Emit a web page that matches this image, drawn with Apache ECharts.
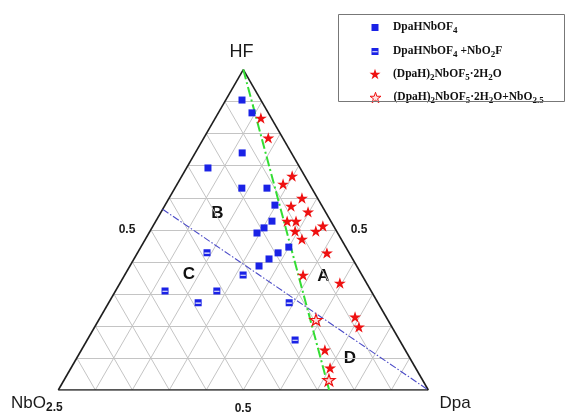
<!DOCTYPE html>
<html><head><meta charset="utf-8">
<script src="https://cdn.jsdelivr.net/npm/echarts@6/dist/echarts.min.js"></script>
<style>html,body{margin:0;padding:0;background:#fff}#c{width:566px;height:414px}</style>
</head><body><div id="c"></div>
<script>
// Ternary compositions stored as [HF fraction, Dpa fraction]; NbO2.5 = 1 - HF - Dpa
const seriesNames = ['DpaHNbOF4', 'DpaHNbOF4+NbO2F', '(DpaH)2NbOF5·2H2O', '(DpaH)2NbOF5·2H2O+NbO2.5'];
const dpaHNbOF4 = [[0.905,0.044],[0.865,0.091],[0.740,0.127],[0.693,0.058],[0.630,0.181],[0.630,0.249],
  [0.577,0.297],[0.527,0.314],[0.506,0.303],[0.490,0.292],[0.446,0.400],[0.428,0.380],[0.409,0.365],[0.387,0.349]];
const dpaHNbOF4_NbO2F = [[0.428,0.188],[0.359,0.320],[0.309,0.134],[0.309,0.274],[0.272,0.242],[0.272,0.488],[0.156,0.562]];
const dpaH2NbOF5 = [[0.849,0.123],[0.787,0.174],[0.643,0.286],[0.668,0.298],[0.599,0.359],[0.574,0.342],[0.556,0.397],
  [0.527,0.355],[0.527,0.379],[0.496,0.392],[0.512,0.459],[0.496,0.448],[0.471,0.423],[0.428,0.512],[0.359,0.482],
  [0.334,0.594],[0.228,0.688],[0.197,0.714],[0.125,0.658],[0.069,0.700]];
const dpaH2NbOF5_NbO25 = [[0.219,0.587],[0.031,0.716]];
const greenBoundary = [[1,0],[0,0.732]];
const blueBoundary = [[0.564,0],[0,1]];
const gridSteps = [0.1,0.2,0.3,0.4,0.5,0.6,0.7,0.8,0.9];
const tickLabels = ['0.5','0.5','0.5'];
const vertexLabels = ['HF', 'NbO{s|2.5}', 'Dpa'];
const regionLabels = ['A','B','C','D'];

const SQ = Math.sqrt(3) / 2;
function toXY(p) { return [p[1] + p[0] / 2, p[0] * SQ]; }
function seg(a, b) { return { coords: [toXY(a), toXY(b)] }; }

const gridSegs = [];
gridSteps.forEach(t => {
  gridSegs.push(seg([t, 0], [t, 1 - t]));       // constant HF
  gridSegs.push(seg([0, t], [1 - t, t]));       // constant Dpa
  gridSegs.push(seg([1 - t, 0], [0, 1 - t]));   // constant NbO2.5
});
const borderSegs = [seg([0,0],[0,1]), seg([0,1],[1,0]), seg([1,0],[0,0])];

const starPath = 'path://M100,0L122.5,69.1L195.1,69.1L136.3,111.8L158.8,180.9L100,138.2L41.2,180.9L63.7,111.8L4.9,69.1L77.5,69.1Z';
const halfSq = 'path://M0,0L10,0L10,10L0,10Z M1.2,4.6L1.2,6.2L8.8,6.2L8.8,4.6Z';
const BLUE = '#1a22e6', RED = '#ee1111';

const richMap = {
  'DpaHNbOF4': 'DpaHNbOF{s|4}',
  'DpaHNbOF4+NbO2F': 'DpaHNbOF{s|4} +NbO{s|2}F',
  '(DpaH)2NbOF5·2H2O': '(DpaH){s|2}NbOF{s|5}·2H{s|2}O',
  '(DpaH)2NbOF5·2H2O+NbO2.5': '(DpaH){s|2}NbOF{s|5}·2H{s|2}O+NbO{s|2.5}'
};
const legTS = {
  fontFamily: 'Liberation Serif', fontWeight: 'bold', fontSize: 11.5, color: '#111', lineHeight: 13,
  rich: { s: { fontFamily: 'Liberation Serif', fontWeight: 'bold', fontSize: 9, lineHeight: 8, padding: [7,0,0,0], verticalAlign: 'middle' } }
};
function mkLegend(item, top, w, left, pad) {
  return { orient: 'vertical', left: left, top: top, padding: 0, itemWidth: w, itemHeight: w, selectedMode: false,
    data: [item], formatter: n => richMap[n], textStyle: Object.assign({ padding: [0,0,0,pad] }, legTS) };
}

const chart = echarts.init(document.getElementById('c'));
chart.setOption({
  animation: false,
  grid: { left: 58.3, top: 69.6, width: 370, height: 320.4 },
  xAxis: { type: 'value', min: 0, max: 1, show: false },
  yAxis: { type: 'value', min: 0, max: SQ, show: false },
  legend: [
    mkLegend(seriesNames[0], 19.5, 7, 371.5, 9.5),
    mkLegend(seriesNames[1], 43.5, 7, 371.5, 9.5),
    mkLegend(seriesNames[2], 66, 11, 369.5, 7.5),
    mkLegend({ name: seriesNames[3], icon: starPath, itemStyle: { color: '#ffe4e4', borderColor: RED, borderWidth: 1 } }, 89.5, 11, 369.5, 7.5)
  ],
  graphic: [
    { type: 'rect', shape: { x: 338.5, y: 14.5, width: 226, height: 87 }, style: { fill: 'none', stroke: '#777', lineWidth: 1 }, z: 100 },
    { type: 'text', x: 241.5, y: 52, style: { text: vertexLabels[0], font: '18px "Liberation Sans"', fill: '#1a1a1a', align: 'center', verticalAlign: 'middle' } },
    { type: 'text', x: 11, y: 403, style: { text: vertexLabels[1], font: '17px "Liberation Sans"', fill: '#1a1a1a', align: 'left', verticalAlign: 'middle',
        rich: { s: { fontSize: 12, fontWeight: 'bold', fontFamily: 'Liberation Sans', fill: '#1a1a1a', padding: [9,0,0,0], lineHeight: 11 } } } },
    { type: 'text', x: 455, y: 403, style: { text: vertexLabels[2], font: '17px "Liberation Sans"', fill: '#1a1a1a', align: 'center', verticalAlign: 'middle' } },
    { type: 'text', x: 127, y: 230, style: { text: tickLabels[0], font: 'bold 12px "Liberation Sans"', fill: '#1a1a1a', align: 'center', verticalAlign: 'middle' } },
    { type: 'text', x: 359, y: 230, style: { text: tickLabels[1], font: 'bold 12px "Liberation Sans"', fill: '#1a1a1a', align: 'center', verticalAlign: 'middle' } },
    { type: 'text', x: 243, y: 409, style: { text: tickLabels[2], font: 'bold 12px "Liberation Sans"', fill: '#1a1a1a', align: 'center', verticalAlign: 'middle' } },
    { type: 'text', x: 323.5, y: 276.5, style: { text: regionLabels[0], font: 'bold 17px "Liberation Sans"', fill: '#111', align: 'center', verticalAlign: 'middle' } },
    { type: 'text', x: 217.5, y: 213.5, style: { text: regionLabels[1], font: 'bold 17px "Liberation Sans"', fill: '#111', align: 'center', verticalAlign: 'middle' } },
    { type: 'text', x: 189, y: 274, style: { text: regionLabels[2], font: 'bold 17px "Liberation Sans"', fill: '#111', align: 'center', verticalAlign: 'middle' } },
    { type: 'text', x: 350, y: 358.5, style: { text: regionLabels[3], font: 'bold 17px "Liberation Sans"', fill: '#111', align: 'center', verticalAlign: 'middle' } }
  ],
  series: [
    { type: 'lines', coordinateSystem: 'cartesian2d', silent: true, z: 1,
      lineStyle: { color: '#c4c4c4', width: 1, opacity: 1 }, data: gridSegs },
    { type: 'lines', coordinateSystem: 'cartesian2d', silent: true, z: 2,
      lineStyle: { color: '#1e1e1e', width: 1.6, opacity: 1 }, data: borderSegs },
    { type: 'lines', coordinateSystem: 'cartesian2d', silent: true, z: 3,
      lineStyle: { color: '#4c4cc8', width: 1.1, opacity: 1, type: [7, 2, 1.5, 2] }, data: [seg(blueBoundary[0], blueBoundary[1])] },
    { type: 'lines', coordinateSystem: 'cartesian2d', silent: true, z: 3,
      lineStyle: { color: '#33dd33', width: 2, opacity: 1, type: [10, 3, 2, 3] }, data: [seg(greenBoundary[0], greenBoundary[1])] },
    { name: seriesNames[0], type: 'scatter', z: 5, symbol: 'rect', symbolSize: 7,
      itemStyle: { color: BLUE, opacity: 1 }, data: dpaHNbOF4.map(toXY) },
    { name: seriesNames[1], type: 'scatter', z: 5, symbol: halfSq, symbolSize: 7, symbolKeepAspect: true,
      itemStyle: { color: BLUE, opacity: 1 }, data: dpaHNbOF4_NbO2F.map(toXY) },
    { name: seriesNames[2], type: 'scatter', z: 5, symbol: starPath, symbolSize: 12, symbolKeepAspect: true,
      itemStyle: { color: RED, opacity: 1 }, data: dpaH2NbOF5.map(toXY) },
    { name: seriesNames[3], type: 'scatter', z: 5, symbol: starPath, symbolSize: 12, symbolKeepAspect: true,
      itemStyle: { color: '#ffdddd', borderColor: RED, borderWidth: 1.2, opacity: 1 }, data: dpaH2NbOF5_NbO25.map(toXY) }
  ]
});
</script></body></html>
